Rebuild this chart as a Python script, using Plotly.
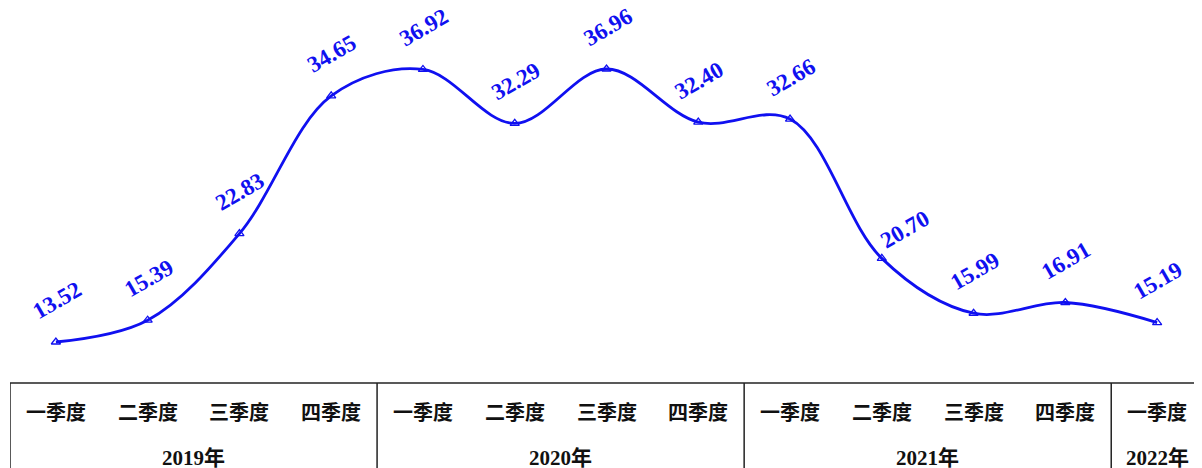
import plotly.graph_objects as go

quarters = ["一季度", "二季度", "三季度", "四季度"] * 3 + ["一季度"]
years = ["2019年", "2020年", "2021年", "2022年"]
year_counts = [4, 4, 4, 1]
values = [13.52, 15.39, 22.83, 34.65, 36.92, 32.29, 36.96, 32.40, 32.66, 20.70, 15.99, 16.91, 15.19]

x = list(range(len(values)))
BLUE = "#1010F0"

# the page body has an 8px margin; compensate so marks land at the reference pixels
OFF = 8
W, H = 1202, 468

fig = go.Figure()
fig.add_trace(go.Scatter(
    x=x, y=values, mode="lines+markers",
    line=dict(color=BLUE, width=2.8, shape="spline", smoothing=1.0),
    marker=dict(symbol="triangle-up-open", size=8, color=BLUE, line=dict(width=1.3, color=BLUE)),
    hoverinfo="skip", showlegend=False,
))

for i, (xi, v) in enumerate(zip(x, values)):
    # the label of the steep drop point sits to the right of the line
    xs, ys = (23, 29) if i == 9 else (1, 42)
    fig.add_annotation(x=xi, y=v, text=f"{v:.2f}", showarrow=False, textangle=-30,
                       xanchor="center", yanchor="middle",
                       yshift=ys, xshift=xs,
                       font=dict(family="Liberation Serif", size=23, color=BLUE, weight="bold"))

def py(pix):
    return 1 - (pix - OFF) / H

line_col = "#222222"
fig.add_shape(type="line", xref="x", yref="paper", x0=-0.5, x1=12.7, y0=py(383), y1=py(383),
              line=dict(color=line_col, width=1.5))
start = -0.5
bounds = [start]
for c in year_counts:
    start += c
    bounds.append(start)
for b in bounds[:-1]:
    fig.add_shape(type="line", xref="x", yref="paper", x0=b, x1=b, y0=py(383), y1=py(480),
                  line=dict(color=line_col, width=1.5))

for xi, q in zip(x, quarters):
    fig.add_annotation(x=xi, y=py(411), xref="x", yref="paper", text=q, showarrow=False,
                       xanchor="center", yanchor="middle",
                       font=dict(family="Noto Sans CJK SC", size=20, color="#111111", weight="bold"))
for i, yname in enumerate(years):
    cx = (bounds[i] + bounds[i + 1]) / 2
    fig.add_annotation(x=cx, y=py(458), xref="x", yref="paper", text=yname, showarrow=False,
                       xanchor="center", yanchor="middle",
                       font=dict(family="Liberation Serif, Noto Sans CJK SC", size=21, color="#111111", weight="bold"))

# y mapping (real page pixels): 13.52 at 342, 36.96 at 69
ppu = (342 - 69) / (36.96 - 13.52)
ymin = 13.52 - (H - (342 - OFF)) / ppu
ymax = ymin + H / ppu

# x mapping: -0.5 at real pixel 10, 91.75 px per quarter
plot_w = 91.75 * 13
ml = 10 - OFF
mr = W - ml - plot_w

fig.update_layout(
    width=W, height=H,
    margin=dict(l=ml, r=mr, t=0, b=0, autoexpand=False),
    paper_bgcolor="white", plot_bgcolor="white",
    xaxis=dict(range=[-0.5, 12.5], visible=False, fixedrange=True),
    yaxis=dict(range=[ymin, ymax], visible=False, fixedrange=True),
)

fig.write_html("out.html")
